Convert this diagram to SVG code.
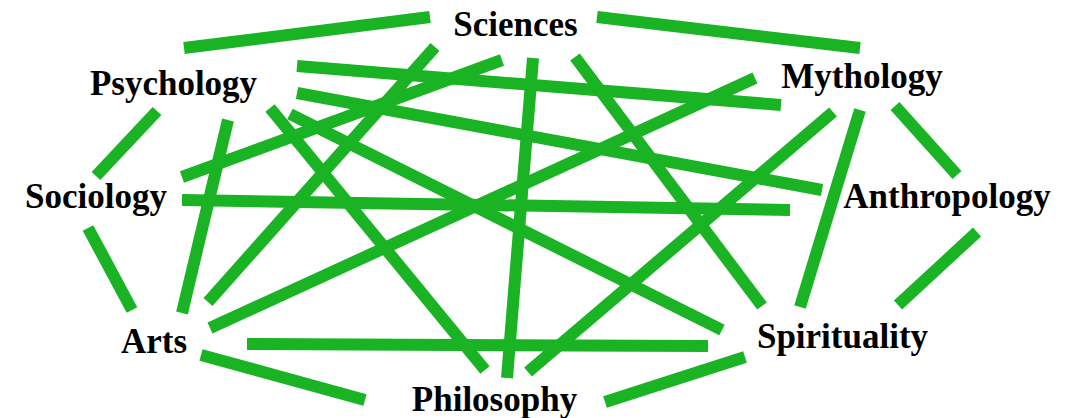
<svg xmlns="http://www.w3.org/2000/svg" width="1075" height="418" viewBox="0 0 1075 418">
<style>
.e{stroke:#19b324;stroke-width:12;stroke-linecap:butt;fill:none}
.t{font-family:"Liberation Serif","Times New Roman",serif;font-weight:bold;font-size:35px;fill:#000;text-anchor:middle}
</style>
<rect width="1075" height="418" fill="#fff"/>
<g id="connectors">
<line class="e" x1="184" y1="48" x2="430" y2="17"/>
<line class="e" x1="597" y1="17" x2="860" y2="48"/>
<line class="e" x1="157" y1="111" x2="96" y2="176"/>
<line class="e" x1="88" y1="228" x2="132" y2="310"/>
<line class="e" x1="201" y1="355" x2="365" y2="400"/>
<line class="e" x1="605" y1="402" x2="745" y2="357"/>
<line class="e" x1="898" y1="305" x2="977" y2="232"/>
<line class="e" x1="895" y1="106" x2="957" y2="175"/>
<line class="e" x1="297" y1="66" x2="781" y2="105"/>
<line class="e" x1="297" y1="93" x2="822" y2="190"/>
<line class="e" x1="290" y1="114" x2="722" y2="330"/>
<line class="e" x1="270" y1="108" x2="485" y2="370"/>
<line class="e" x1="228" y1="120" x2="182" y2="313"/>
<line class="e" x1="182" y1="177" x2="502" y2="60"/>
<line class="e" x1="182" y1="200" x2="790" y2="210"/>
<line class="e" x1="208" y1="302" x2="435" y2="47"/>
<line class="e" x1="210" y1="328" x2="755" y2="78"/>
<line class="e" x1="247" y1="344" x2="708" y2="346"/>
<line class="e" x1="533" y1="58" x2="507" y2="378"/>
<line class="e" x1="575" y1="57" x2="762" y2="306"/>
<line class="e" x1="833" y1="112" x2="528" y2="372"/>
<line class="e" x1="860" y1="110" x2="800" y2="307"/>
</g>
<g id="sciences"><text class="t" x="515.5" y="36">Sciences</text></g>
<g id="psychology"><text class="t" x="173.5" y="95">Psychology</text></g>
<g id="mythology"><text class="t" x="862" y="88">Mythology</text></g>
<g id="sociology"><text class="t" x="96" y="208">Sociology</text></g>
<g id="anthropology"><text class="t" x="947" y="208">Anthropology</text></g>
<g id="arts"><text class="t" x="154" y="353">Arts</text></g>
<g id="spirituality"><text class="t" x="842.5" y="348">Spirituality</text></g>
<g id="philosophy"><text class="t" x="494.5" y="411">Philosophy</text></g>
</svg>
